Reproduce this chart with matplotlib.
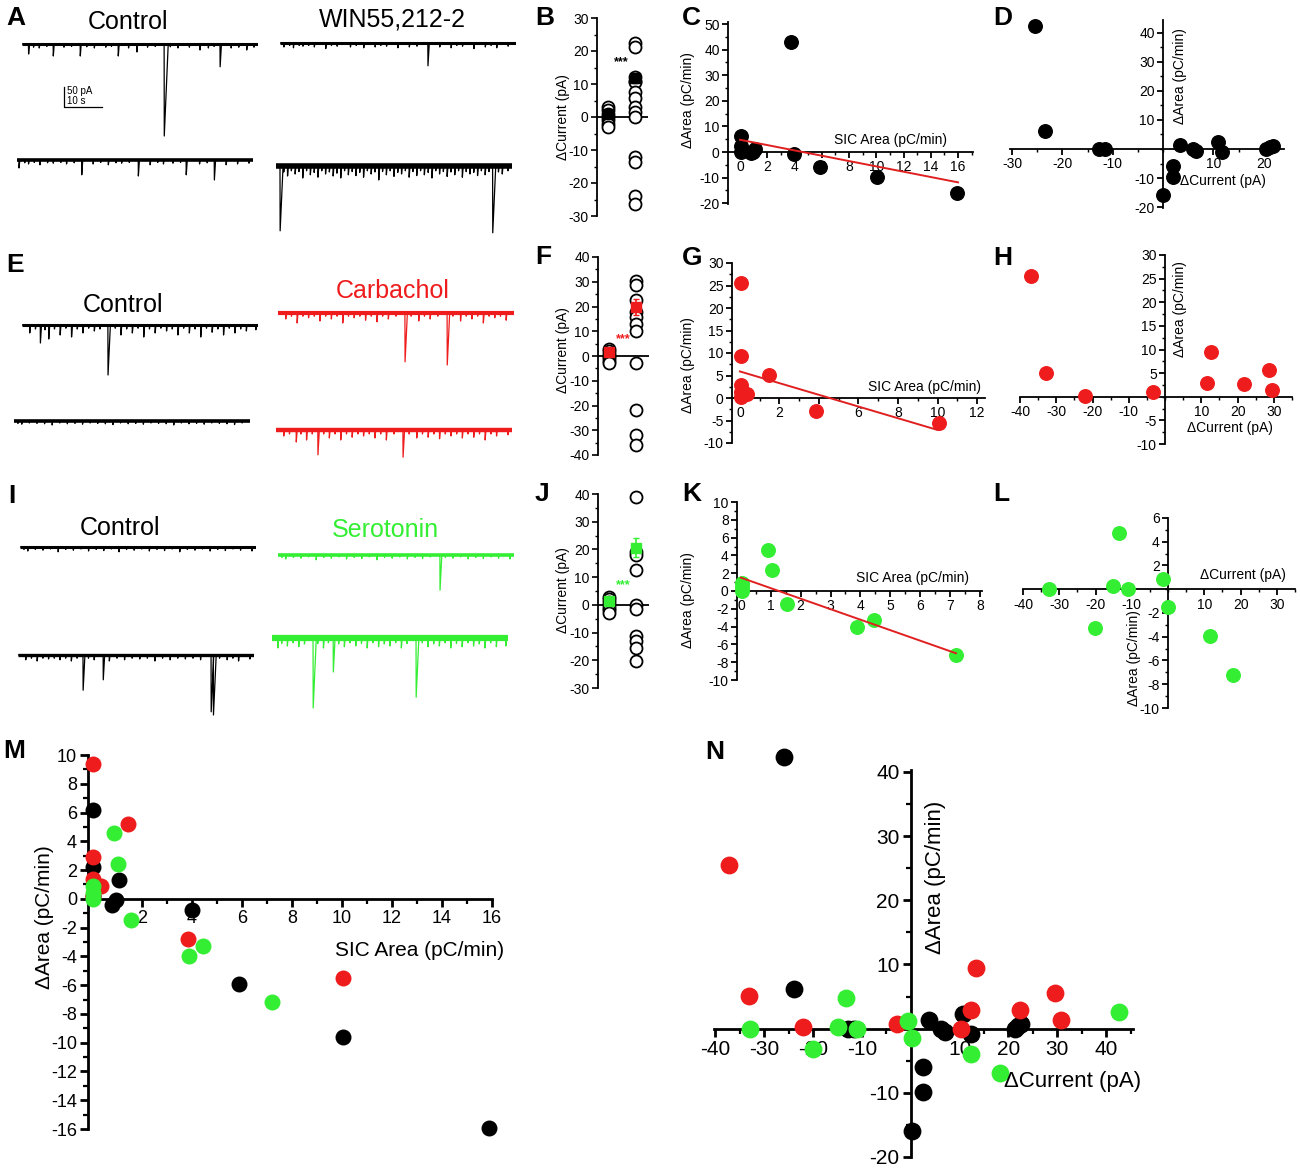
import numpy as np
import matplotlib
matplotlib.use('Agg')
import matplotlib.pyplot as plt
from matplotlib.ticker import MultipleLocator, FixedLocator

plt.rcParams['font.family'] = ['Liberation Sans', 'DejaVu Sans']
plt.rcParams['axes.unicode_minus'] = False

W, H = 1300, 1168
RED = '#ee1c1c'
GREEN = '#33ee33'
LINE_RED = '#e02020'

# ------------------------------------------------------------------ data
# dot plots (B, F, J): left = control column, right = drug column
B_ctrl = [3.0, 2.0, 1.0, 0.0, -1.0, -2.0, -3.0]
B_drug = [22.5, 21.2, 12.1, 11.0, 10.6, 7.6, 5.9, 3.0, 1.5, 0.0, -12.1, -13.7, -23.8, -26.3]
B_mean = [1.0, 11.8]
B_sem = [0.8, 1.5]

F_ctrl = [3.0, 2.0, 1.0, 0.0, -1.0, -2.0, -3.0]
F_drug = [30.5, 28.5, 22.7, 17.7, 15.7, 13.0, 10.3, -2.8, -21.9, -32.0, -36.0]
F_mean = [1.6, 19.8]
F_sem = [1.0, 3.3]

J_ctrl = [3.0, 2.0, 1.0, 0.0, -1.0, -2.0, -3.0]
J_drug = [39.0, 19.0, 18.0, 12.5, 0.0, -1.5, -11.2, -13.0, -15.4, -20.2]
J_mean = [1.4, 20.6]
J_sem = [1.0, 3.5]

# SIC area vs delta area (C, G, K)
C_x = [0.05, 0.05, 0.05, 0.8, 0.95, 1.1, 3.74, 4.0, 5.9, 10.05, 15.9]
C_y = [6.2, 2.2, 0.2, -0.4, -0.1, 1.3, 42.8, -0.8, -5.9, -9.6, -15.9]
G_x = [0.05, 0.05, 0.05, 0.05, 0.05, 0.35, 1.45, 3.85, 10.05]
G_y = [25.6, 9.4, 2.9, 1.4, 0.2, 0.9, 5.2, -2.8, -5.5]
K_x = [0.05, 0.05, 0.05, 0.9, 1.05, 1.55, 3.9, 4.45, 7.2]
K_y = [0.9, 0.4, 0.0, 4.6, 2.4, -1.5, -4.0, -3.3, -7.2]
# linear fits: intercept, slope, x start, x end
C_fit = (4.8, -1.04, 0.0, 16.0)
G_fit = (5.9, -1.30, 0.0, 10.0)
K_fit = (1.5, -1.18, 0.0, 7.2)

# delta current vs delta area (D, H, L)
D_x = [-25.5, -23.5, -12.8, -11.5, 3.4, 5.9, 6.6, 10.9, 11.6, 20.5, 21.3, 21.8, 1.9, 1.9, 0.0]
D_y = [42.3, 6.1, 0.0, 0.0, 1.4, 0.0, -0.6, 2.5, -0.9, 0.0, 0.8, 1.2, -5.8, -9.7, -15.9]
H_x = [-37.0, -32.8, -22.1, -3.3, 11.6, 12.6, 21.7, 28.7, 29.6]
H_y = [25.5, 5.1, 0.2, 0.9, 3.0, 9.5, 2.8, 5.6, 1.4]
L_x = [-32.8, -20.1, -15.1, -13.4, -11.1, -1.3, 0.1, 11.6, 18.0]
L_y = [0.0, -3.3, 0.3, 4.7, 0.0, 0.9, -1.5, -3.9, -7.2]

# pooled panel N
N_black_x = [-26.0, -24.0, -12.8, -11.7, 3.8, 6.1, 7.0, 10.7, 12.4, 21.3, 22.0, 22.5, 2.4, 2.4, 0.3]
N_black_y = [42.3, 6.1, 0.0, 0.0, 1.3, 0.0, -0.6, 2.3, -0.9, 0.0, 0.4, 0.8, -6.0, -9.8, -15.9]
N_red_x = [-37.2, -33.1, -22.0, -2.9, 10.2, 12.3, 13.3, 22.3, 29.5, 30.7]
N_red_y = [25.5, 5.1, 0.2, 0.8, 0.0, 2.9, 9.4, 2.9, 5.5, 1.3]
N_green_x = [-33.0, -20.0, -14.9, -13.3, -11.1, -0.5, 0.3, 12.3, 18.2, 42.7]
N_green_y = [0.0, -3.2, 0.3, 4.7, 0.0, 1.2, -1.5, -3.9, -6.9, 2.6]

# traces: event times (s) and amplitudes (pA, inward)
A_ctrl1_t = [1.7, 3.0, 4.5, 6.5, 8.2, 11.0, 13.0, 15.3, 17.0, 19.0, 22.0, 23.5, 25.3, 28.0, 30.2, 33.0, 35.0, 37.4, 39.0, 41.0, 44.0, 46.8, 49.0, 50.5, 52.1, 55.0, 57.0, 59.1, 61.0]
A_ctrl1_a = [25, 8, 10, 6, 30, 8, 6, 30, 7, 10, 8, 6, 30, 10, 20, 8, 6, 230, 7, 10, 8, 15, 10, 6, 57, 10, 8, 15, 8]
A_ctrl2_t = [0.5, 2.0, 3.0, 4.5, 6.0, 8.0, 9.5, 11.5, 13.0, 15.0, 17.0, 20.0, 22.0, 24.0, 26.0, 27.5, 29.5, 31.9, 35.0, 37.0, 38.5, 41.0, 43.0, 44.5, 48.0, 50.0, 51.9, 55.0, 58.0, 61.0]
A_ctrl2_a = [20, 7, 10, 6, 12, 7, 8, 6, 10, 7, 37, 10, 6, 12, 7, 8, 6, 40, 12, 6, 10, 8, 6, 37, 10, 7, 50, 12, 10, 8]
A_win1_t = [1.0, 2.5, 3.5, 5.0, 6.0, 7.5, 9.0, 12.0, 13.5, 15.0, 18.5, 20.0, 22.0, 25.0, 26.5, 28.0, 31.0, 34.0, 36.0, 38.9, 42.0, 45.0, 46.5, 48.0, 51.0, 54.0, 55.5, 57.0, 60.0]
A_win1_a = [10, 6, 12, 6, 8, 6, 10, 14, 6, 8, 10, 6, 12, 10, 6, 8, 12, 10, 8, 57, 10, 12, 6, 8, 14, 10, 6, 12, 8]
A_win2_t = [1.05, 2.0, 3.0, 4.0, 5.0, 6.0, 7.0, 8.0, 9.0, 10.0, 11.0, 12.0, 13.0, 14.0, 15.0, 16.0, 17.0, 18.0, 19.0, 20.0, 21.0, 22.0, 23.0, 24.0, 25.0, 26.0, 27.0, 28.0, 29.0, 30.0, 31.0, 32.0, 33.0, 34.0, 35.0, 36.0, 37.0, 38.0, 39.0, 40.0, 41.0, 42.0, 43.0, 44.0, 45.0, 46.0, 47.0, 48.0, 49.0, 50.0, 51.0, 52.0, 53.0, 54.0, 55.0, 56.0, 57.0, 58.5, 59.5, 61.0]
A_win2_a = [162, 15, 25, 12, 20, 14, 30, 12, 22, 16, 28, 12, 20, 15, 25, 18, 30, 12, 22, 14, 24, 16, 28, 12, 20, 15, 35, 14, 22, 12, 26, 16, 20, 12, 28, 14, 24, 12, 22, 16, 30, 12, 20, 14, 26, 15, 22, 12, 28, 14, 20, 16, 24, 12, 22, 14, 167, 15, 20, 12]

E_ctrl1_t = [2.0, 3.5, 4.8, 6.0, 7.0, 8.5, 10.0, 11.5, 13.0, 14.5, 16.0, 17.5, 19.0, 20.5, 22.6, 24.5, 26.0, 27.5, 29.0, 30.5, 32.0, 33.5, 35.0, 36.5, 38.0, 39.5, 41.0, 42.5, 44.0, 45.5, 47.0, 48.5, 50.0, 51.5, 53.0, 54.5, 56.0, 57.5, 59.0, 61.5]
E_ctrl1_a = [20, 10, 45, 12, 35, 10, 25, 8, 30, 10, 20, 8, 15, 10, 125, 8, 25, 10, 20, 8, 30, 10, 20, 8, 15, 10, 25, 8, 20, 10, 30, 8, 18, 10, 25, 8, 20, 10, 15, 12]
E_ctrl2_t = [1.0, 2.0, 4.0, 6.0, 8.0, 10.0, 12.0, 14.0, 16.0, 18.0, 20.0, 22.0, 24.0, 26.0, 28.0, 30.0, 32.0, 34.0, 36.0, 38.0, 40.0, 42.0, 44.0, 46.0, 48.0, 50.0, 52.0, 54.0, 56.0, 58.0, 60.0]
E_ctrl2_a = [6, 8, 5, 6, 7, 10, 5, 7, 6, 8, 5, 6, 7, 9, 5, 7, 6, 8, 5, 6, 7, 10, 5, 7, 6, 8, 5, 6, 7, 9, 5]
E_carb1_t = [2.0, 3.5, 5.0, 6.5, 8.0, 9.5, 11.0, 12.5, 14.0, 15.5, 17.0, 18.5, 20.0, 21.5, 23.0, 24.5, 26.0, 27.5, 29.0, 31.0, 33.4, 35.0, 37.0, 38.5, 40.0, 42.0, 44.5, 46.0, 48.0, 49.5, 51.0, 52.5, 54.0, 55.5, 57.0, 58.5, 60.0]
E_carb1_a = [15, 8, 25, 8, 12, 8, 20, 8, 15, 8, 25, 8, 12, 8, 18, 8, 22, 8, 15, 8, 122, 8, 20, 8, 15, 8, 130, 8, 20, 8, 15, 8, 25, 8, 12, 8, 18]
E_carb2_t = [2.0, 3.5, 5.3, 6.5, 8.0, 9.5, 11.0, 12.5, 14.0, 15.5, 17.0, 18.5, 20.0, 21.5, 23.0, 24.5, 26.0, 27.5, 29.0, 31.0, 33.4, 35.0, 37.0, 38.5, 40.0, 41.5, 43.0, 44.5, 46.0, 47.5, 49.0, 50.5, 52.0, 53.5, 55.0, 56.5, 58.0, 61.0]
E_carb2_a = [15, 10, 30, 10, 25, 10, 62, 10, 20, 10, 25, 10, 18, 10, 15, 10, 20, 10, 25, 10, 68, 10, 20, 10, 18, 10, 22, 10, 15, 10, 20, 10, 18, 10, 25, 10, 15, 12]

I_ctrl1_t = [1.0, 2.0, 4.0, 6.0, 8.0, 10.0, 12.0, 14.0, 16.0, 18.0, 20.0, 22.0, 24.0, 26.0, 28.0, 30.0, 32.0, 34.0, 36.0, 38.0, 40.0, 42.0, 44.0, 46.0, 48.0, 50.0, 52.0, 54.0, 56.0, 58.0, 61.0]
I_ctrl1_a = [6, 10, 6, 8, 5, 12, 6, 8, 5, 10, 6, 9, 5, 12, 6, 8, 5, 10, 6, 9, 5, 12, 6, 8, 5, 10, 6, 9, 5, 8, 10]
I_ctrl2_t = [2.0, 3.5, 5.0, 6.5, 8.0, 9.5, 11.0, 12.5, 14.0, 15.5, 17.1, 18.5, 20.0, 22.4, 24.0, 26.0, 28.0, 30.0, 32.0, 34.0, 36.0, 38.0, 40.0, 42.0, 44.0, 46.0, 48.0, 50.8, 51.4, 53.0, 55.0, 56.5, 58.0, 61.0]
I_ctrl2_a = [12, 8, 15, 8, 10, 8, 12, 8, 15, 8, 88, 8, 12, 62, 15, 8, 12, 8, 10, 8, 15, 8, 12, 8, 10, 8, 12, 142, 150, 8, 12, 8, 15, 10]
I_sero1_t = [1.0, 2.0, 4.0, 6.0, 8.0, 10.0, 12.0, 14.0, 16.0, 18.0, 20.0, 22.0, 24.0, 26.0, 28.0, 30.0, 32.0, 34.0, 36.0, 38.0, 40.0, 42.6, 44.0, 46.0, 48.0, 50.0, 52.0, 54.0, 56.0, 58.0, 61.0]
I_sero1_a = [6, 10, 6, 8, 5, 12, 6, 8, 5, 10, 6, 9, 5, 12, 6, 8, 5, 10, 6, 9, 5, 88, 6, 8, 5, 10, 6, 9, 5, 8, 10]
I_sero2_t = [1.5, 2.5, 4.0, 5.5, 7.0, 8.5, 10.8, 12.0, 13.5, 14.8, 16.1, 17.5, 19.0, 20.5, 22.0, 23.5, 25.0, 26.5, 28.0, 29.5, 31.0, 32.5, 34.0, 35.5, 37.9, 39.5, 41.0, 42.5, 44.0, 45.5, 47.0, 48.5, 50.0, 51.5, 53.0, 54.5, 56.0, 57.5, 59.0, 61.5]
I_sero2_a = [25, 14, 20, 12, 22, 15, 175, 14, 25, 12, 85, 15, 22, 12, 20, 14, 25, 12, 22, 15, 20, 12, 25, 14, 148, 12, 22, 15, 20, 12, 25, 14, 22, 12, 20, 15, 25, 12, 22, 20]

SCALE_PA = 50
SCALE_S = 10

# ------------------------------------------------------------------ helpers
fig = plt.figure(figsize=(13, 11.68), dpi=100)


def px_axes(x0, y0, x1, y1):
    return fig.add_axes([x0 / W, 1 - y1 / H, (x1 - x0) / W, (y1 - y0) / H])


def ftext(x, y, s, **kw):
    fig.text(x / W, 1 - y / H, s, **kw)


PX_PER_S = 3.8
PX_PER_PA = 0.4
TRACE_DUR = 62.0


def trace(x0, base_y, t_ev, a_ev, color, noise_lw=2.2, spike_lw=0.9):
    up_px = 16
    down_px = max(a_ev) * PX_PER_PA + 14
    ax = px_axes(x0, base_y - up_px, x0 + TRACE_DUR * PX_PER_S, base_y + down_px)
    ax.set_xlim(0, TRACE_DUR)
    ax.set_ylim(-down_px / PX_PER_PA, up_px / PX_PER_PA)
    ax.axis('off')
    ts, ys = [0.0], [0.0]
    for t, a in sorted(zip(t_ev, a_ev)):
        tau = 0.12 + a * 0.004
        ts += [t, t + 0.04, t + 0.04 + tau]
        ys += [0.0, -a, 0.0]
    ts.append(TRACE_DUR)
    ys.append(0.0)
    ax.plot([0, TRACE_DUR], [0, 0], color=color, lw=noise_lw, solid_capstyle='butt')
    ax.plot(ts, ys, color=color, lw=spike_lw)
    return ax


def style(ax, lw, fs, left_pos, bottom_pos, xmaj_ticks, ymaj_ticks, xminor, yminor,
          maj_len=4, min_len=2.5):
    for s in ['top', 'right']:
        ax.spines[s].set_visible(False)
    ax.spines['left'].set_position(left_pos)
    ax.spines['bottom'].set_position(bottom_pos)
    ax.spines['left'].set_linewidth(lw)
    ax.spines['bottom'].set_linewidth(lw)
    ax.xaxis.set_major_locator(FixedLocator(xmaj_ticks))
    ax.yaxis.set_major_locator(FixedLocator(ymaj_ticks))
    ax.xaxis.set_minor_locator(MultipleLocator(xminor))
    ax.yaxis.set_minor_locator(MultipleLocator(yminor))
    ax.tick_params(which='major', direction='out', length=maj_len, width=lw, labelsize=fs, pad=2)
    ax.tick_params(which='minor', direction='out', length=min_len, width=lw * 0.8)
    ax.patch.set_alpha(0)


def dot_panel(box, ylim, major, ctrl, drug, mean, sem, color, star_xy):
    ax = px_axes(*box)
    ax.set_xlim(0.593, 2.48)
    ax.set_ylim(*ylim)
    for s in ['top', 'right', 'bottom']:
        ax.spines[s].set_visible(False)
    ax.spines['left'].set_linewidth(1.3)
    ax.set_xticks([])
    ax.yaxis.set_major_locator(MultipleLocator(major))
    ax.yaxis.set_minor_locator(MultipleLocator(major / 2))
    ax.tick_params(which='major', direction='out', length=4, width=1.2, labelsize=10, pad=2)
    ax.tick_params(which='minor', direction='out', length=2.5, width=1.0)
    ax.axhline(0, color='k', lw=1.3, zorder=1)
    ax.scatter(np.full(len(ctrl), 1.0), ctrl, s=75, facecolors='white', edgecolors='k',
               linewidths=1.3, zorder=3, clip_on=False)
    ax.scatter(np.full(len(drug), 2.0), drug, s=75, facecolors='white', edgecolors='k',
               linewidths=1.3, zorder=3, clip_on=False)
    ax.errorbar([1.0, 2.0], mean, yerr=sem, fmt='s', color=color, ms=7, capsize=2,
                elinewidth=1.2, zorder=4, clip_on=False)
    ax.patch.set_alpha(0)
    ftext(star_xy[0], star_xy[1], '***', color=color, fontsize=9, ha='center', va='center',
          fontweight='bold')
    return ax


# ------------------------------------------------------------------ traces
panel_fs = 19
title_fs = 18

# A
trace(22, 44, A_ctrl1_t, A_ctrl1_a, 'k')
trace(17, 160, A_ctrl2_t, A_ctrl2_a, 'k', noise_lw=2.6)
trace(280, 43, A_win1_t, A_win1_a, 'k')
trace(276, 166, A_win2_t, A_win2_a, 'k', noise_lw=4.0)
ftext(128, 22, 'Control', fontsize=title_fs, ha='center', va='center')
ftext(392, 19, 'WIN55,212-2', fontsize=title_fs, ha='center', va='center')
# scale bar
sb = px_axes(64, 87, 64 + SCALE_S * PX_PER_S, 87 + SCALE_PA * PX_PER_PA)
sb.set_xlim(0, SCALE_S)
sb.set_ylim(-SCALE_PA, 0)
sb.axis('off')
sb.plot([0, 0, SCALE_S], [0, -SCALE_PA, -SCALE_PA], color='k', lw=0.9, clip_on=False)
ftext(67, 91, '50 pA', fontsize=7, ha='left', va='center')
ftext(67, 101, '10 s', fontsize=7, ha='left', va='center')

# E
trace(22, 325, E_ctrl1_t, E_ctrl1_a, 'k')
trace(14, 421, E_ctrl2_t, E_ctrl2_a, 'k', noise_lw=2.6)
trace(278, 313, E_carb1_t, E_carb1_a, RED, noise_lw=3.0)
trace(276, 430, E_carb2_t, E_carb2_a, RED, noise_lw=3.2)
ftext(123, 305, 'Control', fontsize=title_fs, ha='center', va='center')
ftext(393, 291, 'Carbachol', fontsize=title_fs, ha='center', va='center', color=RED)

# I
trace(20, 547, I_ctrl1_t, I_ctrl1_a, 'k')
trace(18, 655, I_ctrl2_t, I_ctrl2_a, 'k', noise_lw=2.4)
trace(278, 555, I_sero1_t, I_sero1_a, GREEN, noise_lw=2.6)
trace(272, 638, I_sero2_t, I_sero2_a, GREEN, noise_lw=4.5)
ftext(120, 528, 'Control', fontsize=title_fs, ha='center', va='center')
ftext(385, 530, 'Serotonin', fontsize=title_fs, ha='center', va='center', color=GREEN)

# ------------------------------------------------------------------ dot plots
dot_panel((597, 18, 648, 216), (-30, 30), 10, B_ctrl, B_drug, B_mean, B_sem, 'k', (621, 62))
ftext(563, 117, '\u0394Current (pA)', fontsize=10, rotation=90, ha='center', va='center')
dot_panel((598, 257, 649, 455), (-40, 40), 10, F_ctrl, F_drug, F_mean, F_sem, RED, (623, 339))
ftext(563, 350, '\u0394Current (pA)', fontsize=10, rotation=90, ha='center', va='center')
dot_panel((598, 494, 649, 688), (-30, 40), 10, J_ctrl, J_drug, J_mean, J_sem, GREEN, (623, 585))
ftext(563, 590, '\u0394Current (pA)', fontsize=10, rotation=90, ha='center', va='center')

S_SMALL = 95
FS_SMALL = 10

# ------------------------------------------------------------------ C
ax = px_axes(728, 22, 973, 204)
ax.set_xlim(-0.88, 17.1)
ax.set_ylim(-20.3, 50.8)
style(ax, 1.3, FS_SMALL, ('axes', 0), ('data', 0), range(0, 17, 2), range(-20, 51, 10), 1, 5)
ax.scatter(C_x, C_y, s=S_SMALL, color='k', zorder=3, clip_on=False)
b0, b1, x0, x1 = C_fit
ax.plot([x0, x1], [b0 + b1 * x0, b0 + b1 * x1], color=LINE_RED, lw=1.4, zorder=4)
ftext(890, 140, 'SIC Area (pC/min)', fontsize=FS_SMALL, ha='center', va='center')
ftext(688, 100, '\u0394Area (pC/min)', fontsize=FS_SMALL, rotation=90, ha='center', va='center')

# ------------------------------------------------------------------ D
ax = px_axes(1010, 20, 1284, 208)
ax.set_xlim(-30.4, 24.0)
ax.set_ylim(-20.3, 44.4)
style(ax, 1.3, FS_SMALL, ('data', 0), ('data', 0), [-30, -20, -10, 10, 20],
      [-20, -10, 10, 20, 30, 40], 5, 5)
ax.scatter(D_x, D_y, s=S_SMALL, color='k', zorder=3, clip_on=False)
ftext(1180, 76, '\u0394Area (pC/min)', fontsize=FS_SMALL, rotation=90, ha='center', va='center')
ftext(1223, 181, '\u0394Current (pA)', fontsize=FS_SMALL, ha='center', va='center')

# ------------------------------------------------------------------ G
ax = px_axes(732, 263, 985, 443)
ax.set_xlim(-0.4, 12.4)
ax.set_ylim(-10, 30)
style(ax, 1.3, FS_SMALL, ('axes', 0), ('data', 0), range(0, 13, 2), range(-10, 31, 5), 1, 2.5)
ax.scatter(G_x, G_y, s=S_SMALL, color=RED, zorder=3, clip_on=False)
b0, b1, x0, x1 = G_fit
ax.plot([x0, x1], [b0 + b1 * x0, b0 + b1 * x1], color=LINE_RED, lw=1.4, zorder=4)
ftext(925, 387, 'SIC Area (pC/min)', fontsize=FS_SMALL, ha='center', va='center')
ftext(688, 365, '\u0394Area (pC/min)', fontsize=FS_SMALL, rotation=90, ha='center', va='center')

# ------------------------------------------------------------------ H
ax = px_axes(1020, 255, 1292, 444)
ax.set_xlim(-40, 35)
ax.set_ylim(-10, 30)
style(ax, 1.3, FS_SMALL, ('data', 0), ('data', 0), [-40, -30, -20, -10, 10, 20, 30],
      [-10, -5, 5, 10, 15, 20, 25, 30], 5, 2.5)
ax.scatter(H_x, H_y, s=S_SMALL, color=RED, zorder=3, clip_on=False)
ftext(1180, 309, '\u0394Area (pC/min)', fontsize=FS_SMALL, rotation=90, ha='center', va='center')
ftext(1230, 428, '\u0394Current (pA)', fontsize=FS_SMALL, ha='center', va='center')

# ------------------------------------------------------------------ K
ax = px_axes(737, 502, 982, 680)
ax.set_xlim(-0.13, 8.07)
ax.set_ylim(-10, 10)
style(ax, 1.3, FS_SMALL, ('axes', 0), ('data', 0), range(0, 9, 1), range(-10, 11, 2), 0.5, 1)
ax.scatter(K_x, K_y, s=S_SMALL, color=GREEN, zorder=3, clip_on=False)
b0, b1, x0, x1 = K_fit
ax.plot([x0, x1], [b0 + b1 * x0, b0 + b1 * x1], color=LINE_RED, lw=1.4, zorder=4)
ftext(912, 578, 'SIC Area (pC/min)', fontsize=FS_SMALL, ha='center', va='center')
ftext(688, 600, '\u0394Area (pC/min)', fontsize=FS_SMALL, rotation=90, ha='center', va='center')

# ------------------------------------------------------------------ L
ax = px_axes(1023, 518, 1295, 708)
ax.set_xlim(-40, 35)
ax.set_ylim(-10, 6)
style(ax, 1.3, FS_SMALL, ('data', 0), ('data', 0), [-40, -30, -20, -10, 10, 20, 30],
      [-10, -8, -6, -4, -2, 2, 4, 6], 5, 1)
ax.scatter(L_x, L_y, s=S_SMALL, color=GREEN, zorder=3, clip_on=False)
ftext(1243, 575, '\u0394Current (pA)', fontsize=FS_SMALL, ha='center', va='center')
ftext(1134, 658, '\u0394Area (pC/min)', fontsize=FS_SMALL, rotation=90, ha='center', va='center')

# ------------------------------------------------------------------ M (pooled)
ax = px_axes(88, 755, 492, 1129)
ax.set_xlim(-0.15, 16)
ax.set_ylim(-16, 10)
style(ax, 2.0, 13, ('axes', 0), ('data', 0), range(2, 17, 2), range(-16, 11, 2), 1, 1,
      maj_len=6, min_len=3.5)
M_TOP = 10.3
for xs, ys, col in [(C_x, C_y, 'k'), (G_x, G_y, RED), (K_x, K_y, GREEN)]:
    xs = np.asarray(xs)
    ys = np.asarray(ys)
    keep = ys <= M_TOP
    ax.scatter(xs[keep], ys[keep], s=110, color=col, zorder=3, clip_on=False)
ftext(420, 951, 'SIC Area (pC/min)', fontsize=15, ha='center', va='center')
ftext(45, 917, '\u0394Area (pC/min)', fontsize=15, rotation=90, ha='center', va='center')

# ------------------------------------------------------------------ N (pooled)
ax = px_axes(714, 770, 1133, 1157)
ax.set_xlim(-40.3, 45.5)
ax.set_ylim(-20, 40.3)
style(ax, 2.0, 15, ('data', 0), ('data', 0), [-40, -30, -20, -10, 10, 20, 30, 40],
      [-20, -10, 10, 20, 30, 40], 5, 5, maj_len=6, min_len=3.5)
ax.scatter(N_black_x, N_black_y, s=140, color='k', zorder=3, clip_on=False)
ax.scatter(N_red_x, N_red_y, s=140, color=RED, zorder=3, clip_on=False)
ax.scatter(N_green_x, N_green_y, s=140, color=GREEN, zorder=3, clip_on=False)
ftext(1073, 1082, '\u0394Current (pA)', fontsize=16, ha='center', va='center')
ftext(936, 877, '\u0394Area (pC/min)', fontsize=16, rotation=90, ha='center', va='center')

# ------------------------------------------------------------------ panel letters
for letter, x, y in [('A', 6, 18), ('B', 535, 18), ('C', 682, 18), ('D', 993, 18),
                     ('E', 6, 265), ('F', 535, 257), ('G', 682, 258), ('H', 993, 258),
                     ('I', 8, 496), ('J', 535, 494), ('K', 682, 494), ('L', 993, 494),
                     ('M', 3, 751), ('N', 705, 752)]:
    ftext(x, y, letter, fontsize=panel_fs, fontweight='bold', ha='left', va='center')

fig.savefig('out.png', dpi=100)
